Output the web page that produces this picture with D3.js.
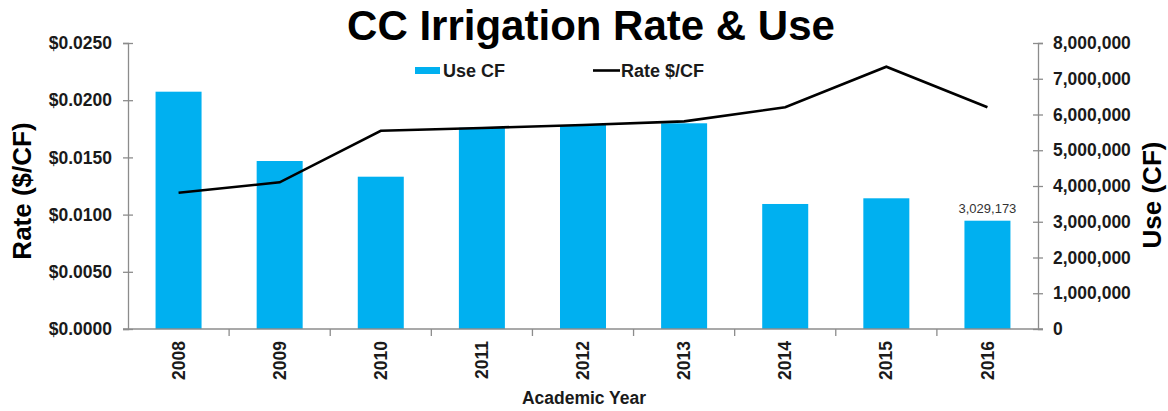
<!DOCTYPE html>
<html><head><meta charset="utf-8">
<script src="https://cdn.jsdelivr.net/npm/d3@7"></script>
<style>body{margin:0;background:#fff;} svg{display:block;font-family:"Liberation Sans",Arial,sans-serif;}</style>
</head><body>
<svg id="c" width="1168" height="411"></svg>
<script>
const years = ["2008","2009","2010","2011","2012","2013","2014","2015","2016"];
const useCF = [6638000, 4699000, 4260000, 5631000, 5706000, 5754000, 3497000, 3656000, 3029173];
const rate = [0.01191, 0.01282, 0.01733, 0.01757, 0.01783, 0.01815, 0.01938, 0.02293, 0.01938];
const rateTicks = [0, 0.005, 0.010, 0.015, 0.020, 0.025];
const useTicks = [0,1000000,2000000,3000000,4000000,5000000,6000000,7000000,8000000];

const svg = d3.select("#c");
const L = 128, R = 1038, T = 43, B = 329;
const axisColor = "#8c8c8c";

const x = d3.scaleBand().domain(years).range([L, R]).paddingInner(0.545).paddingOuter(0.2725);
const xb = d3.scaleBand().domain(years).range([L, R]);
const yL = d3.scaleLinear().domain([0, 0.025]).range([B, T]);
const yR = d3.scaleLinear().domain([0, 8000000]).range([B, T]);

// bars
svg.append("g").selectAll("rect").data(years).join("rect")
  .attr("x", d => x(d)).attr("width", x.bandwidth())
  .attr("y", (d,i) => yR(useCF[i])).attr("height", (d,i) => B - yR(useCF[i]))
  .attr("fill", "#00b0f0");

// line
const line = d3.line().x((d,i) => xb(years[i]) + xb.bandwidth()/2).y(d => yL(d));
svg.append("path").datum(rate).attr("d", line)
  .attr("fill","none").attr("stroke","#000").attr("stroke-width",2.6).attr("stroke-linejoin","miter");

// data label
svg.append("text").attr("x", xb("2016") + xb.bandwidth()/2).attr("y", yR(useCF[8]) - 8)
  .attr("text-anchor","middle").attr("font-size",13).attr("fill","#333").text(d3.format(",")(useCF[8]));

function styleAxis(g){
  g.selectAll("path,line").attr("stroke", axisColor).attr("stroke-width",1.3);
  g.selectAll("text").attr("font-weight","bold").attr("font-size",17.5).attr("fill","#1a1a1a");
}

// left axis
const gL = svg.append("g").attr("transform",`translate(${L},0)`)
  .call(d3.axisLeft(yL).tickValues(rateTicks).tickFormat(d => "$" + d3.format(".4f")(d)).tickSizeOuter(0).tickSize(5).tickPadding(11));
gL.selectAll(".tick line").attr("x2", 5).attr("x1",-5);
styleAxis(gL);

// right axis
const gR = svg.append("g").attr("transform",`translate(${R},0)`)
  .call(d3.axisRight(yR).tickValues(useTicks).tickFormat(d3.format(",")).tickSizeOuter(0).tickSize(5).tickPadding(10));
gR.selectAll(".tick line").attr("x1",-5).attr("x2",5);
styleAxis(gR);

// bottom axis
const gB = svg.append("g").attr("transform",`translate(0,${B})`)
  .call(d3.axisBottom(xb).tickSize(0).tickSizeOuter(0).tickPadding(0));
gB.select(".domain").attr("d", `M${L-5},0H${R+5}`);
gB.selectAll(".tick text").attr("transform","rotate(-90)").attr("text-anchor","end")
  .attr("x",-12).attr("y",0).attr("dy","0.35em");
styleAxis(gB);
// boundary ticks
svg.append("g").selectAll("line").data(years.slice(1)).join("line")
  .attr("x1", d => xb(d)).attr("x2", d => xb(d)).attr("y1", B).attr("y2", B + 7)
  .attr("stroke", axisColor).attr("stroke-width",1.3);

// titles
svg.append("text").attr("x",591).attr("y",40).attr("text-anchor","middle")
  .attr("font-size",42).attr("font-weight","bold").attr("fill","#000").text("CC Irrigation Rate & Use");
svg.append("text").attr("transform","translate(31,191) rotate(-90)").attr("text-anchor","middle")
  .attr("font-size",26).attr("font-weight","bold").attr("fill","#000").text("Rate ($/CF)");
svg.append("text").attr("transform","translate(1161,195) rotate(-90)").attr("text-anchor","middle")
  .attr("font-size",26).attr("font-weight","bold").attr("fill","#000").text("Use (CF)");
svg.append("text").attr("x",584).attr("y",404).attr("text-anchor","middle")
  .attr("font-size",17.5).attr("font-weight","bold").attr("fill","#1a1a1a").text("Academic Year");

// legend
const lg = svg.append("g");
lg.append("rect").attr("x",415).attr("y",67).attr("width",25).attr("height",7).attr("fill","#00b0f0");
lg.append("text").attr("x",443).attr("y",77).attr("font-size",18).attr("font-weight","bold").attr("fill","#1a1a1a").text("Use CF");
lg.append("line").attr("x1",593).attr("x2",620).attr("y1",70.5).attr("y2",70.5).attr("stroke","#000").attr("stroke-width",2.6);
lg.append("text").attr("x",621).attr("y",77).attr("font-size",18).attr("font-weight","bold").attr("fill","#1a1a1a").text("Rate $/CF");
</script>
</body></html>
